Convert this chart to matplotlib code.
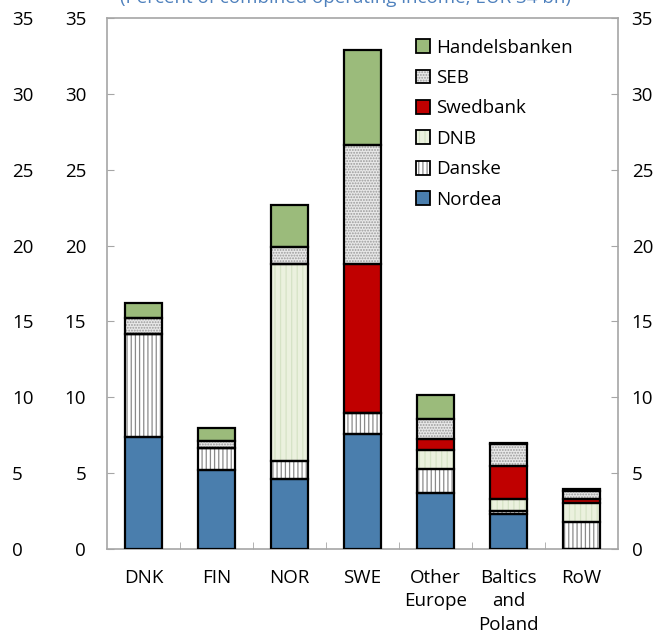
import numpy as np
import matplotlib.pyplot as plt
from matplotlib.patches import Patch

plt.rcParams['font.family'] = ['Open Sans', 'DejaVu Sans']
plt.rcParams['hatch.linewidth'] = 0.9

categories = ['DNK', 'FIN', 'NOR', 'SWE', 'Other\nEurope', 'Baltics\nand\nPoland', 'RoW']
banks = ['Nordea', 'Danske', 'DNB', 'Swedbank', 'SEB', 'Handelsbanken']

nordea = [7.4, 5.2, 4.6, 7.6, 3.7, 2.3, 0.0]
danske = [6.8, 1.45, 1.2, 1.4, 1.55, 0.2, 1.8]
dnb = [0.0, 0.0, 13.0, 0.0, 1.25, 0.8, 1.25]
swedbank = [0.0, 0.0, 0.0, 9.8, 0.75, 2.15, 0.25]
seb = [1.0, 0.45, 1.1, 7.8, 1.35, 1.45, 0.5]
handelsbanken = [1.0, 0.9, 2.8, 6.3, 1.55, 0.1, 0.15]
yticks = [0, 5, 10, 15, 20, 25, 30, 35]

series = [nordea, danske, dnb, swedbank, seb, handelsbanken]
# (fill colour, hatch, hatch colour)
styles = [
    ('#4A7EAD', None, None),
    ('white', '||||', '#8a8a8a'),
    ('#EBF1DE', '|||', '#d6e3c6'),
    ('#C00000', None, None),
    ('#E8E8E8', '......', '#9a9a9a'),
    ('#9BBB7B', None, None),
]
fs = 13.5

fig = plt.figure(figsize=(6.65, 6.4), dpi=100)
ax = fig.add_axes([0.161, 0.142, 0.768, 0.830])

x = np.arange(len(categories))
width = 0.5
bottom = np.zeros(len(categories))
handles = []
for name, vals, (fc, hatch, hc) in zip(banks, series, styles):
    vals = np.array(vals)
    if hatch:
        ax.bar(x, vals, width, bottom=bottom, color=fc, hatch=hatch,
               edgecolor=hc, linewidth=0, zorder=2)
    else:
        ax.bar(x, vals, width, bottom=bottom, color=fc, linewidth=0, zorder=2)
    ax.bar(x, vals, width, bottom=bottom, fill=False, edgecolor='black',
           linewidth=1.6, zorder=3)
    h1 = Patch(facecolor=fc, hatch=hatch, edgecolor=hc if hatch else fc, linewidth=0)
    h2 = Patch(fill=False, edgecolor='black', linewidth=1.3)
    handles.append((h1, h2))
    bottom += vals

ax.set_xlim(-0.5, len(categories) - 0.5)
ax.set_ylim(0, 35)
ax.set_yticks(yticks)
ax.set_xticks(x)
ax.set_xticklabels(categories, fontsize=fs, linespacing=1.42)
ax.set_xticks(np.arange(0.5, len(categories) - 1, 1), minor=True)
ax.tick_params(axis='x', which='major', length=0, pad=14)
ax.tick_params(axis='x', which='minor', length=5, direction='in', color='#a6a6a6')
ax.tick_params(axis='y', direction='in', length=5, color='#a6a6a6', labelsize=fs, pad=15)
for s in ax.spines.values():
    s.set_color('#a6a6a6')
    s.set_linewidth(1.2)

# right-hand axis labels
ax2 = ax.twinx()
ax2.set_ylim(ax.get_ylim())
ax2.set_yticks(yticks)
ax2.tick_params(axis='y', direction='in', length=5, color='#a6a6a6', labelsize=fs, pad=10)
for s in ax2.spines.values():
    s.set_visible(False)

# outer left column of labels
for v in yticks:
    ax.text(-0.186, v, str(v), transform=ax.get_yaxis_transform(), ha='left',
            va='center_baseline', fontsize=fs)

ax.legend(handles[::-1], banks[::-1], loc='upper left', bbox_to_anchor=(0.59, 0.975),
          frameon=False, fontsize=fs, handlelength=0.75, handleheight=0.75,
          handletextpad=0.35, labelspacing=0.66, borderaxespad=0)

fig.text(0.52, 1.003, '(Percent of combined operating income, EUR 34 bn)',
         ha='center', va='center', fontsize=fs, color='#4F81BD')

fig.savefig('out.png', dpi=100)
